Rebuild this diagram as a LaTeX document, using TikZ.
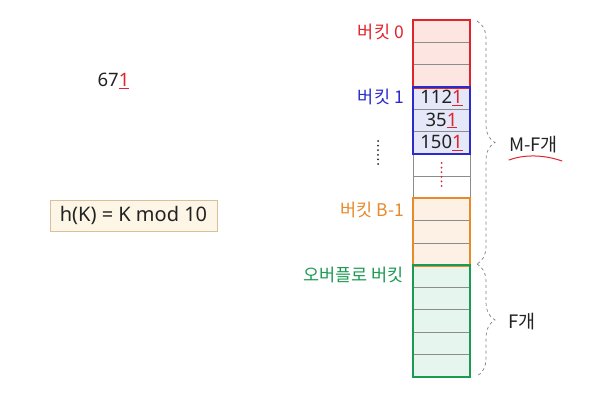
\documentclass[tikz,border=0pt]{standalone}
\usepackage{fontspec}
\setmainfont{Noto Sans}
\newfontfamily\kr{Noto Sans CJK KR}
\usetikzlibrary{decorations.pathreplacing}
\definecolor{bred}{HTML}{E0242C}
\definecolor{bredf}{HTML}{FDE6E2}
\definecolor{bblue}{HTML}{2B2BCC}
\definecolor{bbluef}{HTML}{E4E8F8}
\definecolor{borange}{HTML}{E8892A}
\definecolor{borangef}{HTML}{FDF1E6}
\definecolor{bgreen}{HTML}{1B9A52}
\definecolor{bgreenf}{HTML}{E6F5EE}
\definecolor{cellline}{HTML}{8C8C8C}
\definecolor{boxfill}{HTML}{FDF6E6}
\definecolor{boxline}{HTML}{D6C19C}
\definecolor{txt}{HTML}{222222}
\newcommand\redu[1]{\textcolor{bred}{\underline{#1}}}
\tikzset{
  cell/.style={draw=cellline, line width=0.8pt, minimum width=57pt, minimum height=22.25pt, inner sep=0pt, anchor=north, font=\fontsize{18.5}{18.5}\selectfont, text=txt},
  bucket/.style={line width=2pt},
  blabel/.style={anchor=east, font=\kr\fontsize{17.5}{17.5}\selectfont, inner sep=0pt},
  brace/.style={decorate, decoration={brace, amplitude=18pt}, dashed, draw=gray, line width=0.7pt},
  dotline/.style={line width=2pt, line cap=round, dash pattern=on 0pt off 4.6pt},
}
\begin{document}
\begin{tikzpicture}[x=1pt,y=-1pt]
\useasboundingbox (0,0) rectangle (591,401);
% cells
\foreach \i/\f in {0/bredf,1/bredf,2/bredf,3/bbluef,4/bbluef,5/bbluef,6/white,7/white,8/borangef,9/borangef,10/borangef,11/bgreenf,12/bgreenf,13/bgreenf,14/bgreenf,15/bgreenf}{
  \node[cell, fill=\f] (c\i) at (441.5,{20+22.25*\i}) {};
}
\node[cell, draw=none] at (c3.north) {112\redu{1}};
\node[cell, draw=none] at (c4.north) {35\redu{1}};
\node[cell, draw=none] at (c5.north) {150\redu{1}};
% bucket outlines
\draw[bucket, bred] (c0.north west) rectangle (c2.south east);
\draw[bucket, bblue] (c3.north west) rectangle (c5.south east);
\draw[bucket, borange] (c8.north west) rectangle (c10.south east);
\draw[bucket, bgreen] (c11.north west) rectangle (c15.south east);
% labels
\node[blabel, text=bred] (l0) at (404,32) {버킷 0};
\node[blabel, text=bblue] (l1) at (404,97) {버킷 1};
\node[blabel, text=borange] (l2) at (404,210) {버킷 B-1};
\node[blabel, text=bgreen] (l3) at (404,275) {오버플로 버킷};
% dots
\coordinate (d1) at (378,141);
\coordinate (d2) at (378,168);
\draw[dotline, txt] (d1) -- (d2);
\coordinate (r1) at (441.5,163);
\coordinate (r2) at (441.5,190);
\draw[dotline, bred] (r1) -- (r2);
% braces
\coordinate (b0) at (477,21);
\coordinate (b1) at (477,264);
\coordinate (b2) at (477,376);
\draw[brace] (b0) -- (b1);
\draw[brace] (b1) -- (b2);
\node[anchor=west, inner sep=0pt, font=\kr\fontsize{18.5}{18.5}\selectfont, text=txt] (mf) at (509,145) {M-F개};
\draw[bred, line width=1pt, line cap=round] (509,160) .. controls (525,154) and (545,155) .. (562,161);
\node[anchor=west, inner sep=0pt, font=\kr\fontsize{18.5}{18.5}\selectfont, text=txt] (f) at (508,322) {F개};
% key
\node[inner sep=0pt, font=\fontsize{18.5}{18.5}\selectfont, text=txt] (k) at (113.5,81) {67\redu{1}};
\node[draw=boxline, fill=boxfill, line width=1pt, minimum width=167pt, minimum height=31pt, inner sep=0pt, font=\fontsize{20}{20}\selectfont, text=txt] (h) at (133.5,215.5) {h(K) = K mod 10};
\end{tikzpicture}
\end{document}
